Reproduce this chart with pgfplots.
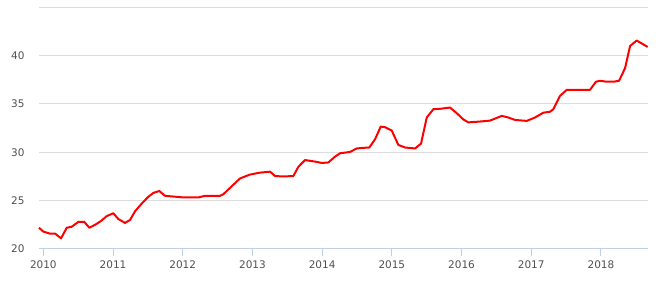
\documentclass[border=0pt]{standalone}
\usepackage{pgfplots}
\pgfplotsset{compat=1.18}
\usepackage{fontspec}
\setmainfont{DejaVu Sans}
\definecolor{gridc}{RGB}{221,221,221}
\definecolor{axisc}{RGB}{192,208,224}
\definecolor{labc}{RGB}{80,80,80}
\definecolor{linec}{RGB}{255,0,0}
\begin{document}
\begin{tikzpicture}
\begin{axis}[
  name=ax,
  scale only axis,
  width=608.7bp, height=241.7bp,
  xmin=2009.938, xmax=2018.671,
  ymin=20, ymax=45,
  xtick={2010,2011,2012,2013,2014,2015,2016,2017,2018},
  xticklabels={2010,2011,2012,2013,2014,2015,2016,2017,2018},
  ytick={20,25,30,35,40,45},
  yticklabels={20,25,30,35,40,{}},
  axis x line*=bottom,
  axis y line*=left,
  x axis line style={draw=axisc, line width=1bp, -},
  y axis line style={draw=none},
  xtick style={draw=axisc, line width=1bp},
  ytick style={draw=none},
  tick align=outside,
  xtick pos=bottom,
  ytick pos=left,
  major tick length=7bp,
  ymajorgrids,
  major grid style={draw=gridc, line width=1bp},
  tick label style={font=\fontsize{10.5}{12}\selectfont, text=labc},
  /pgf/number format/assume math mode=true,
  yticklabel style={xshift=-4bp},
  xticklabel style={yshift=-1bp},
  clip=false,
]
\addplot[linec, line width=2bp, line join=round] coordinates {
(2009.938,22.2)
(2010.000,21.8)
(2010.089,21.6)
(2010.168,21.6)
(2010.254,21.1)
(2010.336,22.2)
(2010.407,22.3)
(2010.502,22.8)
(2010.588,22.8)
(2010.660,22.2)
(2010.742,22.5)
(2010.828,22.9)
(2010.910,23.4)
(2011.004,23.7)
(2011.076,23.1)
(2011.172,22.7)
(2011.244,23.0)
(2011.316,23.9)
(2011.412,24.7)
(2011.506,25.4)
(2011.578,25.8)
(2011.664,26.0)
(2011.746,25.5)
(2011.986,25.35)
(2012.234,25.35)
(2012.320,25.5)
(2012.535,25.5)
(2012.582,25.66)
(2012.822,27.3)
(2012.966,27.7)
(2013.109,27.9)
(2013.253,28.0)
(2013.324,27.55)
(2013.443,27.5)
(2013.587,27.55)
(2013.659,28.5)
(2013.755,29.2)
(2013.898,29.04)
(2013.994,28.9)
(2014.089,28.95)
(2014.185,29.55)
(2014.257,29.9)
(2014.400,30.04)
(2014.496,30.4)
(2014.568,30.45)
(2014.677,30.5)
(2014.759,31.35)
(2014.841,32.66)
(2014.902,32.6)
(2014.999,32.25)
(2015.093,30.77)
(2015.189,30.5)
(2015.333,30.4)
(2015.419,30.9)
(2015.501,33.6)
(2015.596,34.46)
(2015.692,34.5)
(2015.835,34.63)
(2015.931,34.05)
(2016.026,33.4)
(2016.098,33.1)
(2016.241,33.17)
(2016.409,33.28)
(2016.577,33.77)
(2016.671,33.6)
(2016.767,33.35)
(2016.935,33.25)
(2017.054,33.6)
(2017.174,34.1)
(2017.270,34.2)
(2017.317,34.46)
(2017.413,35.84)
(2017.509,36.46)
(2017.843,36.46)
(2017.929,37.3)
(2017.987,37.4)
(2018.083,37.3)
(2018.178,37.3)
(2018.260,37.4)
(2018.346,38.7)
(2018.418,41.0)
(2018.513,41.56)
(2018.671,40.9)
};
\end{axis}
\path (ax.south west) ++(-39bp,-37bp) coordinate (bbsw);
\path (ax.north east) ++(16.3bp,7.3bp) coordinate (bbne);
\path (bbsw) rectangle (bbne);
\end{tikzpicture}
\end{document}
